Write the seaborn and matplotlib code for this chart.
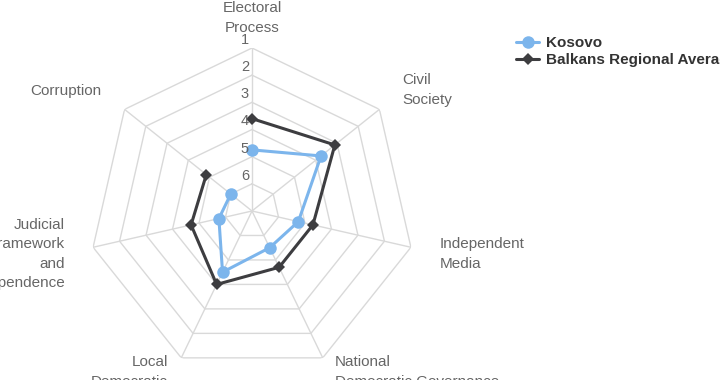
import numpy as np
import pandas as pd
import seaborn as sns
import matplotlib.pyplot as plt
from matplotlib.transforms import offset_copy

categories = ["Electoral Process", "Civil Society", "Independent Media",
              "National Democratic Governance", "Local Democratic Governance",
              "Judicial Framework and Independence", "Corruption"]
kosovo = [4.75, 3.75, 5.25, 5.5, 4.5, 5.75, 6.0]
balkans = [3.6, 3.1, 4.7, 4.7, 4.0, 4.7, 4.85]
rings = [1, 2, 3, 4, 5, 6]

sns.set_style("white")
plt.rcParams['font.family'] = ['Liberation Sans', 'DejaVu Sans']

fig = plt.figure(figsize=(7.2, 3.8), dpi=100)
ax = fig.add_axes([89 / 720, 6 / 380, 326 / 720, 326 / 380], projection='polar')
ax.set_theta_zero_location('N')
ax.set_theta_direction(-1)

n = len(categories)
theta = np.linspace(0, 2 * np.pi, n, endpoint=False)
theta_closed = np.append(theta, theta[0])

grid_c = '#d9d9d9'
for lvl in rings:
    ax.plot(theta_closed, [lvl] * (n + 1), color=grid_c, lw=1, zorder=0)
for t in theta:
    ax.plot([t, t], [7, 1], color=grid_c, lw=1, zorder=0)

df = pd.DataFrame({
    "theta": np.concatenate([theta_closed, theta_closed]),
    "score": kosovo + [kosovo[0]] + balkans + [balkans[0]],
    "series": ["Kosovo"] * (n + 1) + ["Balkans Regional Average"] * (n + 1),
})

sns.lineplot(data=df[df.series == "Kosovo"], x="theta", y="score", sort=False,
             color='#7cb5ec', lw=2.2, marker='o', markersize=9, markeredgewidth=0,
             label="Kosovo", ax=ax, zorder=3)
sns.lineplot(data=df[df.series == "Balkans Regional Average"], x="theta", y="score",
             sort=False, color='#3d3d40', lw=2.2, marker='D', markersize=6.5,
             markeredgewidth=0, label="Balkans Regional Average", ax=ax, zorder=3)

ax.set_ylim(7, 1)
ax.grid(False)
ax.spines['polar'].set_visible(False)
ax.set_xticks([])
ax.set_yticks([])
ax.set_xlabel("")
ax.set_ylabel("")

tick_tr = offset_copy(ax.transData, fig=fig, x=-3, y=1, units='dots')
for lvl in rings:
    ax.text(0, lvl, str(lvl), transform=tick_tr, ha='right', va='bottom',
            fontsize=10.5, color='#666666')

lab_c = '#666666'
fs = 11
ls = 1.5
W, H = 720, 380
fig.text(252 / W, 1 - 18 / H, "Electoral\nProcess", ha='center', va='center',
         fontsize=fs, color=lab_c, linespacing=ls)
fig.text(402 / W, 1 - 90 / H, "Civil\nSociety", ha='left', va='center',
         fontsize=fs, color=lab_c, linespacing=ls)
fig.text(440 / W, 1 - 254 / H, "Independent\nMedia", ha='left', va='center',
         fontsize=fs, color=lab_c, linespacing=ls)
fig.text(335 / W, 1 - 355 / H, "National\nDemocratic Governance", ha='left', va='top',
         fontsize=fs, color=lab_c, linespacing=ls)
fig.text(168 / W, 1 - 355 / H, "Local\nDemocratic\nGovernance", ha='right', va='top',
         fontsize=fs, color=lab_c, linespacing=ls)
fig.text(65 / W, 1 - 254 / H, "Judicial\nFramework\nand\nIndependence", ha='right',
         va='center', fontsize=fs, color=lab_c, linespacing=ls)
fig.text(101 / W, 1 - 91 / H, "Corruption", ha='right', va='center',
         fontsize=fs, color=lab_c)

leg = ax.legend(loc='upper left', bbox_to_anchor=(510 / W, 1 - 30 / H),
                bbox_transform=fig.transFigure, frameon=False, handlelength=1.5,
                handletextpad=0.45, labelspacing=0.2, borderaxespad=0,
                prop={'weight': 'bold', 'size': 11})
for txt in leg.get_texts():
    txt.set_color('#333333')

fig.savefig("out.png", dpi=100)
